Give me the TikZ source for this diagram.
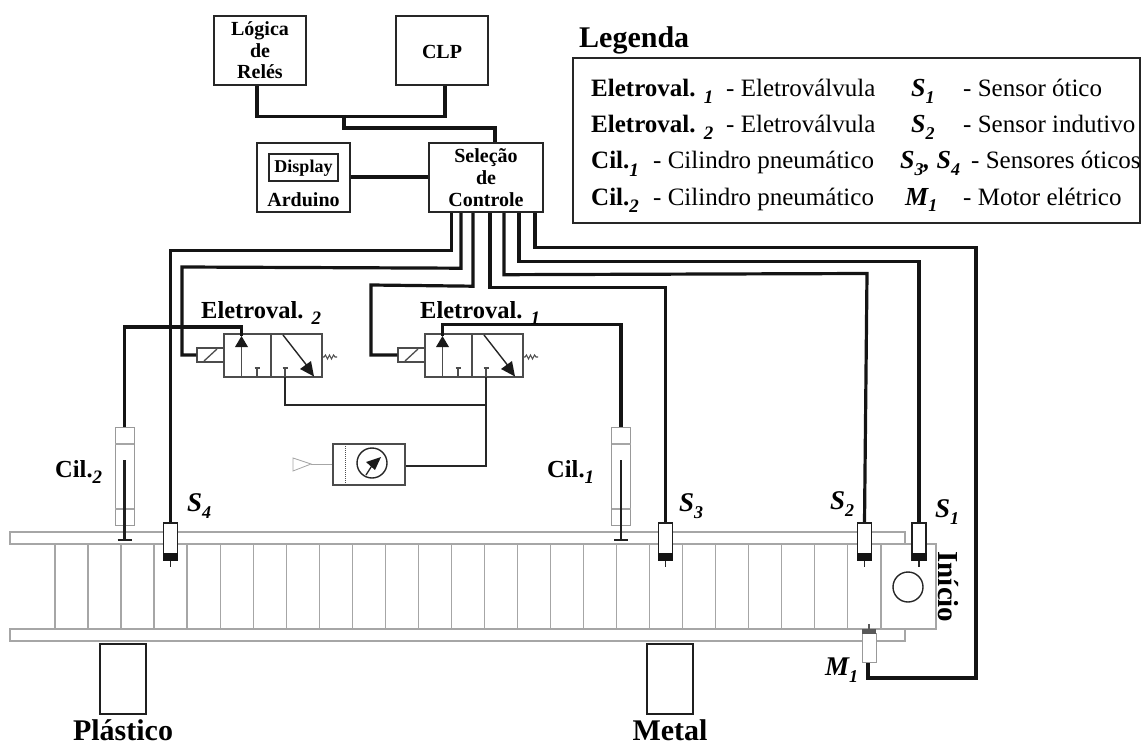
\documentclass[tikz,border=0pt]{standalone}
\usepackage{fontspec}
\setmainfont{Liberation Serif}
\newcommand{\fs}[1]{\fontsize{#1}{#1}\selectfont}
\newcommand{\subn}[1]{\raisebox{-.26em}{\fs{18}\bfseries\itshape #1}}
\newcommand{\subl}[1]{\raisebox{-.28em}{\fs{19}\bfseries\itshape #1}}
\tikzset{
  x=1pt,y=-1pt,
  wire/.style={line width=3.2pt,black!92,line join=miter},
  blackbox/.style={draw=black!85,line width=2.4pt,inner sep=0,align=center},
  boxt/.style={inner sep=0,anchor=base,font=\fs{20}\bfseries},
  graybox/.style={draw=black!40,line width=1pt,fill=white,inner sep=0},
  grayl/.style={draw=black!35,line width=1.2pt},
  valveline/.style={draw=black!70,line width=1.3pt},
  pipe/.style={draw=black!85,line width=1.7pt},
  sens/.style={draw=black!88,fill=white,line width=1.8pt,inner sep=0,minimum width=14,minimum height=37},
  lab/.style={inner sep=0,font=\fs{24.5}\bfseries},
  slab/.style={inner sep=0,anchor=base west,font=\fs{27}\bfseries\itshape},
  big/.style={inner sep=0,anchor=base,font=\fs{30}\bfseries},
  leg/.style={inner sep=0,anchor=base west,font=\fs{25}},
  legs/.style={inner sep=0,anchor=base west,font=\fs{26}\bfseries\itshape},
  binbox/.style={draw=black!88,line width=2pt,inner sep=0,minimum width=46,minimum height=70},
  tipf/.style={fill=black!90,draw=none},
}
% sensor: name, centre x
\newcommand{\sensor}[2]{%
  \node[sens] (#1) at (#2,541.5) {};
  \fill[black!92] (#2-7.5,553) rectangle (#2+7.5,560.5);
  \draw[black!85,line width=1.6pt] (#1.south) -- ++(0,6);
}
% cylinder: name, centre x
\newcommand{\cyl}[2]{%
  \node[graybox,minimum width=19,minimum height=98] (#1) at (#2,476) {};
  \draw[grayl] (#2-9.5,444) -- (#2+9.5,444) (#2-9.5,509) -- (#2+9.5,509);
  \draw[black!88,line width=2.6pt] (#2,460) -- (#2,540);
  \draw[black!88,line width=2.2pt] (#2-7,540) -- (#2+7,540);
}
% valve: name, left x
\newcommand{\valve}[2]{%
  \node[valveline,draw,inner sep=0,minimum width=98,minimum height=43] (#1) at (#2+49,355.5) {};
  \node[valveline,draw,inner sep=0,minimum width=27,minimum height=14] (#1sol) at (#2-13.5,355) {};
  \draw[valveline] (#2+47,334) -- (#2+47,377);
  \draw[valveline] (#2-20,361) -- (#2-7,349);
  \draw[valveline] (#2+17.5,377) -- (#2+17.5,346);
  \fill[tipf] (#2+17.5,336) -- (#2+24,347) -- (#2+11,347) -- cycle;
  \coordinate (#1p) at (#2+17.5,336);
  \draw[valveline] (#2+33,377) -- (#2+33,368) (#2+30.5,368) -- (#2+35.5,368);
  \draw[valveline] (#2+61,377) -- (#2+61,368) (#2+58.5,368) -- (#2+63.5,368);
  \coordinate (#1t) at (#2+61,377);
  \draw[black!85,line width=1.4pt] (#2+59,335) -- (#2+84,367);
  \fill[tipf] (#2+90,376.5) -- (#2+76,369) -- (#2+87,361) -- cycle;
  \draw[black!70,line width=1.1pt] (#2+98,357) -- (#2+100,357) -- (#2+101.5,355) -- (#2+103.5,359) -- (#2+105.5,355) -- (#2+107.5,359) -- (#2+109.5,355) -- (#2+111,357) -- (#2+113,357);
}
\begin{document}
\begin{tikzpicture}
\useasboundingbox (0,0) rectangle (1142,746);
% Conveyor
\node[grayl,draw,inner sep=0,minimum width=895,minimum height=12] (railt) at (457.5,538) {};
\node[grayl,draw,inner sep=0,minimum width=895,minimum height=12] (railb) at (457.5,635) {};
\foreach \i in {0,...,24} {\draw[grayl] (54.9+33.04*\i,544) -- (54.9+33.04*\i,629);}
\node[grayl,draw,inner sep=0,minimum width=55,minimum height=85] (startb) at (908.5,586.5) {};
\node[draw=black!85,line width=1.4pt,circle,inner sep=0,minimum size=30] (motorc) at (908,587) {};
\node[inner sep=0,font=\fs{29}\bfseries,rotate=-90] (inicio) at (948,587) {Início};
% Bins
\node[binbox] (binp) at (123,679) {};
\node[binbox] (binm) at (670,679) {};
\node[big] (plast) at (123,740) {Plástico};
\node[big] (metal) at (670,740) {Metal};
% Top boxes
\node[blackbox,minimum width=92,minimum height=69] (logica) at (260,50.5) {};
\node[boxt] (tl1) at (260,35.5) {Lógica};
\node[boxt] (tl2) at (260,58) {de};
\node[boxt] (tl3) at (260,79) {Relés};
\node[blackbox,minimum width=92,minimum height=69] (clp) at (442,50.5) {};
\node[boxt] (tclp) at (442,58.5) {CLP};
\node[blackbox,minimum width=114,minimum height=69] (sel) at (486,177.5) {};
\node[boxt] (ts1) at (486,163) {Seleção};
\node[boxt] (ts2) at (486,184.5) {de};
\node[boxt] (ts3) at (486,206.5) {Controle};
\node[blackbox,minimum width=93,minimum height=69] (ard) at (303.5,177.5) {};
\node[blackbox,minimum width=69,minimum height=27] (disp) at (303.5,167.5) {};
\node[boxt,font=\fs{18}\bfseries] (tdisp) at (303.5,172) {Display};
\node[boxt] (tard) at (303.5,206.5) {Arduino};
% Top wires
\draw[wire] ([xshift=-3pt]logica.south) -- ++(0,30) -| ([xshift=3pt]clp.south);
\coordinate (jn) at (344,115);
\draw[wire] (jn) -- ++(0,13) -| ([xshift=9pt]sel.north);
\draw[wire] (ard.east |- 0,177) -- (sel.west |- 0,177);
% Components
\sensor{sa}{919}
\sensor{sb}{864.5}
\sensor{sc}{665.5}
\sensor{sd}{170.5}
\cyl{cild}{124.5}
\cyl{cilu}{621}
\valve{vd}{224}
\valve{vu}{425}
% Motor
\node[graybox,minimum width=14,minimum height=29] (mot) at (869,647.5) {};
\fill[black!65] (862,629) rectangle (876,633.5);
\draw[black!65,line width=1.3pt] (869,629) -- ++(0,-5);
% Selection wires
\draw[wire] ([xshift=-34.5pt]sel.south) -- ++(0,37) -| (sd.north);
\draw[wire] ([xshift=-25pt]sel.south) -- ++(0,55) -- (182,267) |- (vdsol.west);
\draw[wire] ([xshift=-13pt]sel.south) -- ++(0,73) -- (371,285) |- (vusol.west);
\draw[wire] ([xshift=4pt]sel.south) -- ++(0,74.5) -| (sc.north);
\draw[wire] ([xshift=18pt]sel.south) -- ++(0,61.5) -- (867,273.5) -- (sb.north);
\draw[wire] ([xshift=33pt]sel.south) -- ++(0,48) -| (sa.north);
\draw[wire] ([xshift=49pt]sel.south) -- ++(0,34.5) -| (976,678) -| ([xshift=-1pt]mot.south);
\draw[wire] (vdp) -- ++(0,-9) -| (cild.north);
\draw[wire] (vup) -- ++(0,-11.5) -| (cilu.north);
% Regulator
\node[draw=black!70,line width=1.3pt,inner sep=0,minimum width=72,minimum height=41] (reg) at (369,464.5) {};
\draw[black!70,line width=1pt,densely dotted] (345,444) -- (345,485);
\node[draw=black!85,line width=1.4pt,circle,inner sep=0,minimum size=30] (gauge) at (372,463) {};
\draw[black!85,line width=1.3pt] (366,475) -- (373,464);
\fill[tipf] (381,457) -- (375,470) -- (366,462) -- cycle;
\draw[black!35,line width=.8pt] (311,464) -- (reg.west |- 0,464);
\draw[black!35,line width=.8pt,fill=white] (293,458) -- (311,464) -- (293,471) -- cycle;
\coordinate (airfork) at (486,405);
\draw[pipe] (vdt) |- (airfork);
\draw[pipe] (vut) -- (airfork) |- (reg.east |- 0,466);
% Labels
\node[lab,anchor=base west] (evd) at (201,318) {Eletroval. \subl{2}};
\node[lab,anchor=base west] (evu) at (420,318) {Eletroval. \subl{1}};
\node[lab,anchor=base west] (cd) at (55,477) {Cil.\subl{2}};
\node[lab,anchor=base west] (cu) at (547,477) {Cil.\subl{1}};
\node[slab] (lsd) at (187,511) {S\subn{4}};
\node[slab] (lsc) at (679,511) {S\subn{3}};
\node[slab] (lsb) at (830,509) {S\subn{2}};
\node[slab] (lsa) at (935,517) {S\subn{1}};
\node[slab] (lm) at (825,675) {M\subn{1}};
% Legend
\node[inner sep=0,anchor=base west,font=\fs{30}\bfseries] (legt) at (579,48) {Legenda};
\node[draw=black!85,line width=2pt,inner sep=0,minimum width=567,minimum height=165] (legb) at (856.5,140.5) {};
\node[leg] (l1a) at (591,97) {\textbf{Eletroval. }\subl{1}};
\node[leg] (l1b) at (726,97) {- Eletroválvula};
\node[legs] (l1c) at (911,97) {S\subn{1}};
\node[leg] (l1d) at (963,97) {- Sensor ótico};
\node[leg] (l2a) at (591,133) {\textbf{Eletroval. }\subl{2}};
\node[leg] (l2b) at (726,133) {- Eletroválvula};
\node[legs] (l2c) at (911,133) {S\subn{2}};
\node[leg] (l2d) at (963,133) {- Sensor indutivo};
\node[leg] (l3a) at (591,169) {\textbf{Cil.}\subl{1}};
\node[leg] (l3b) at (653,169) {- Cilindro pneumático};
\node[legs] (l3c) at (900,169) {S\subn{3}, S\subn{4}};
\node[leg] (l3d) at (971,169) {- Sensores óticos};
\node[leg] (l4a) at (591,205) {\textbf{Cil.}\subl{2}};
\node[leg] (l4b) at (653,205) {- Cilindro pneumático};
\node[legs] (l4c) at (905,205) {M\subn{1}};
\node[leg] (l4d) at (963,205) {- Motor elétrico};
\end{tikzpicture}
\end{document}
